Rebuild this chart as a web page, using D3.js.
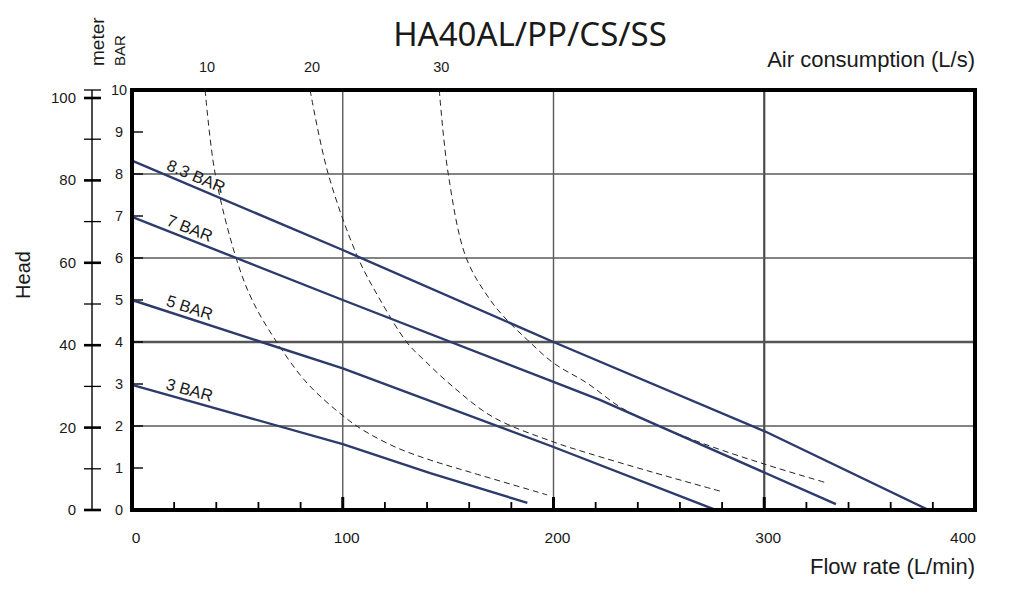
<!DOCTYPE html>
<html>
<head>
<meta charset="utf-8">
<script src="https://cdn.jsdelivr.net/npm/d3@7/dist/d3.min.js"></script>
<style>
  html, body { margin: 0; padding: 0; background: #fff; }
  svg { display: block; }
  text { font-family: "Liberation Sans", Arial, sans-serif; fill: #1a1a1a; }
</style>
</head>
<body>
<svg id="chart" width="1020" height="598"></svg>
<script>
// ---------------- DATA ----------------
const title = "HA40AL/PP/CS/SS";
const flowTicks = [0, 100, 200, 300, 400];
const barTicks = [0, 1, 2, 3, 4, 5, 6, 7, 8, 9, 10];
const meterTicks = [0, 10, 20, 30, 40, 50, 60, 70, 80, 90, 100];
const meterLabels = [0, 20, 40, 60, 80, 100];
const gridFlowThin = [100, 200];
const gridFlowBold = [300];
const gridBarThin = [2, 6, 8];
const gridBarBold = [4];

// Pressure curves: [flow L/min, head BAR]
const pressureNames = ["8.3 BAR", "7 BAR", "5 BAR", "3 BAR"];
const bar83 = [[0, 8.32], [100, 6.19], [200, 4.0], [300, 1.88], [378, 0]];
const bar7  = [[0, 6.98], [100, 5.0], [200, 3.05], [222, 2.62], [334, 0.14]];
const bar5  = [[0, 5.0], [100, 3.37], [200, 1.5], [276, 0.02]];
const bar3  = [[0, 2.98], [100, 1.57], [141.5, 0.88], [187.6, 0.17]];

// Air consumption curves: [flow L/min, head BAR]
const airNames = ["10", "20", "30"];
const air10 = [[34.7, 10], [39.4, 8.02], [49.4, 6], [57, 5], [68.9, 3.98], [83.1, 3.02], [99.7, 2.26],
               [109.7, 1.9], [125.8, 1.48], [141.5, 1.19], [160.5, 0.9], [197, 0.36]];
const air20 = [[84.5, 10], [93, 8.02], [107.3, 6], [117.8, 5], [130.6, 3.98], [139, 3.55], [152.4, 2.93],
               [171.4, 2.21], [200, 1.62], [216, 1.36], [247, 0.9], [279, 0.45]];
const air30 = [[145.8, 10], [150, 8.02], [158.6, 6], [170, 5], [178, 4.52], [187.6, 4.05], [200, 3.5],
               [216, 3.02], [231.7, 2.45], [247, 2.07], [270, 1.6], [301.5, 1.07], [330, 0.64]];

// ---------------- CHART ----------------
const svg = d3.select("#chart");
const x = d3.scaleLinear().domain([0, 400]).range([132, 975]);
const y = d3.scaleLinear().domain([0, 10]).range([510, 90]);
const ym = d3.scaleLinear().domain([0, 100]).range([510, 98]);
const navy = "#2d3a6c";

// grid
const g = svg.append("g");
g.selectAll(".gvt").data(gridFlowThin).join("line")
  .attr("x1", d => x(d)).attr("x2", d => x(d)).attr("y1", y(0)).attr("y2", y(10))
  .attr("stroke", "#5a5a5a").attr("stroke-width", 1.4);
g.selectAll(".gvb").data(gridFlowBold).join("line")
  .attr("x1", d => x(d)).attr("x2", d => x(d)).attr("y1", y(0)).attr("y2", y(10))
  .attr("stroke", "#4a4a4a").attr("stroke-width", 2.2);
g.selectAll(".ght").data(gridBarThin).join("line")
  .attr("x1", x(0)).attr("x2", x(400)).attr("y1", d => y(d)).attr("y2", d => y(d))
  .attr("stroke", "#5a5a5a").attr("stroke-width", 1.4);
g.selectAll(".ghb").data(gridBarBold).join("line")
  .attr("x1", x(0)).attr("x2", x(400)).attr("y1", d => y(d)).attr("y2", d => y(d))
  .attr("stroke", "#555").attr("stroke-width", 2.4);

// x minor ticks (inside, every 20)
const xMinor = d3.range(20, 400, 20);
g.selectAll(".xt").data(xMinor).join("line")
  .attr("x1", d => x(d)).attr("x2", d => x(d))
  .attr("y1", y(0)).attr("y2", d => y(0) - (d % 100 === 0 ? 13 : 8))
  .attr("stroke", "#000").attr("stroke-width", d => d % 100 === 0 ? 3 : 1.8);

// BAR ticks inside left
g.selectAll(".bt").data(barTicks).join("line")
  .attr("x1", x(0)).attr("x2", x(0) + 11).attr("y1", d => y(d)).attr("y2", d => y(d))
  .attr("stroke", "#000").attr("stroke-width", 1.4);

// dashed air curves
const airLine = d3.line().x(d => x(d[0])).y(d => y(d[1])).curve(d3.curveCatmullRom.alpha(0.5));
const airData = [air10, air20, air30];
svg.append("g").selectAll("path").data(airData).join("path")
  .attr("d", airLine).attr("fill", "none").attr("stroke", "#222")
  .attr("stroke-width", 1).attr("stroke-dasharray", "6,4");

// pressure curves
const pLine = d3.line().x(d => x(d[0])).y(d => y(d[1]));
const pData = [bar83, bar7, bar5, bar3];
svg.append("g").selectAll("path").data(pData).join("path")
  .attr("d", pLine).attr("fill", "none").attr("stroke", navy)
  .attr("stroke-width", 2.4).attr("stroke-linejoin", "round");

// labels along pressure lines
pData.forEach((pts, i) => {
  const p0 = pts[0], p1 = pts[1];
  const dx = x(p1[0]) - x(p0[0]), dy = y(p1[1]) - y(p0[1]);
  const ang = Math.atan2(dy, dx);
  const f = 15;
  const t = (f - p0[0]) / (p1[0] - p0[0]);
  const px = x(p0[0]) + dx * t, py = y(p0[1]) + dy * t;
  const off = 5;
  const tx = px + Math.sin(ang) * off, ty = py - Math.cos(ang) * off;
  svg.append("text")
    .attr("transform", `translate(${tx},${ty}) rotate(${ang * 180 / Math.PI})`)
    .attr("font-size", 16.5).text(pressureNames[i]);
});

// frame
svg.append("rect").attr("x", x(0)).attr("y", y(10))
  .attr("width", x(400) - x(0)).attr("height", y(0) - y(10))
  .attr("fill", "none").attr("stroke", "#000").attr("stroke-width", 4);

// BAR labels
svg.append("g").selectAll("text").data(barTicks).join("text")
  .attr("x", 119).attr("y", d => y(d) + 5).attr("text-anchor", "middle")
  .attr("font-size", 14.5).attr("fill", "#222").text(d => d);

// meter axis
const mx = 92;
svg.append("line").attr("x1", mx).attr("x2", mx).attr("y1", y(10)).attr("y2", y(0))
  .attr("stroke", "#000").attr("stroke-width", 1.4);
svg.append("g").selectAll("line").data(meterTicks).join("line")
  .attr("x1", mx - 8).attr("x2", mx + 9)
  .attr("y1", d => ym(d)).attr("y2", d => ym(d))
  .attr("stroke", "#000").attr("stroke-width", d => d % 20 === 0 ? 2.6 : 1.3);
svg.append("line").attr("x1", mx - 8).attr("x2", mx + 9).attr("y1", y(10)).attr("y2", y(10))
  .attr("stroke", "#000").attr("stroke-width", 1.3);
svg.append("g").selectAll("text").data(meterLabels).join("text")
  .attr("x", 76).attr("y", d => ym(d) + 5).attr("text-anchor", "end")
  .attr("font-size", 15).attr("fill", "#222").text(d => d);

// x tick labels
svg.append("g").selectAll("text").data(flowTicks).join("text")
  .attr("x", d => x(d) + (d === 400 ? -12 : 4)).attr("y", 543).attr("text-anchor", "middle")
  .attr("font-size", 15.5).attr("fill", "#222").text(d => d);

// air consumption labels (top)
svg.append("g").selectAll("text").data(airData).join("text")
  .attr("x", d => x(d[0][0]) + 2).attr("y", 72).attr("text-anchor", "middle")
  .attr("font-size", 14.5).attr("fill", "#222").text((d, i) => airNames[i]);

// axis titles
svg.append("text").attr("x", 975).attr("y", 67).attr("text-anchor", "end")
  .attr("font-size", 22).text("Air consumption (L/s)");
svg.append("text").attr("x", 975).attr("y", 574).attr("text-anchor", "end")
  .attr("font-size", 22).text("Flow rate (L/min)");
svg.append("text").attr("transform", "translate(30,275) rotate(-90)").attr("text-anchor", "middle")
  .attr("font-size", 20).text("Head");
svg.append("text").attr("transform", "translate(104,66) rotate(-90)").attr("text-anchor", "start")
  .attr("font-size", 19).text("meter");
svg.append("text").attr("transform", "translate(125,66) rotate(-90)").attr("text-anchor", "start")
  .attr("font-size", 15).text("BAR");

// title
svg.append("text").attr("x", 530).attr("y", 46).attr("text-anchor", "middle")
  .style("font-family", "'Noto Sans', 'Open Sans', sans-serif")
  .attr("font-size", 33).text(title);
</script>
</body>
</html>
